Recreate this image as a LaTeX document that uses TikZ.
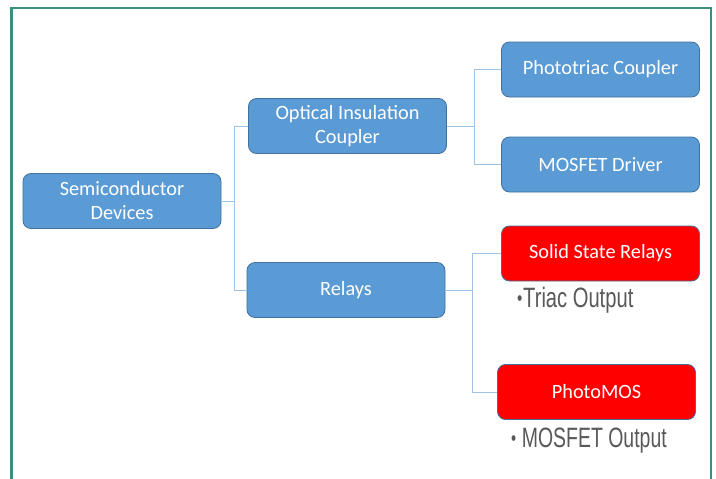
\documentclass[tikz,border=0pt]{standalone}
\usepackage{fontspec}
\newfontfamily\carlito{Carlito}
\newfontfamily\labfont{Liberation Sans}
\definecolor{boxblue}{HTML}{5B9BD5}
\definecolor{boxedge}{HTML}{41719C}
\definecolor{boxred}{HTML}{FF0000}
\definecolor{connblue}{HTML}{9DC3E6}
\definecolor{framegreen}{HTML}{3C8E7E}
\definecolor{labgray}{HTML}{595959}
\newcommand{\smallbul}{\raisebox{1.5pt}{\scalebox{0.75}{\textbullet}}}
\tikzset{
  box/.style={draw=boxedge, line width=0.8pt, fill=boxblue, rounded corners=8pt,
    minimum width=198pt, minimum height=55pt, inner sep=0pt, text=white,
    align=center, font=\carlito\fontsize{20.3}{24}\selectfont},
  redbox/.style={box, fill=boxred},
  conn/.style={draw=connblue, line width=1pt},
  lab/.style={anchor=base west, inner sep=0pt, text=labgray,
    font=\labfont\fontsize{28}{30}\selectfont}
}
\begin{document}
\begin{tikzpicture}[x=1pt,y=-1pt]
\useasboundingbox (0,0) rectangle (716,479);
\fill[white] (0,0) rectangle (716,479);
% frame
\draw[framegreen, line width=2.6pt] (11.5,482) -- (11.5,8) -- (710.8,8) -- (710.8,482);
% nodes
\node[box] (sd) at (122,201) {Semiconductor\\Devices};
\node[box] (oic) at (347.5,126) {Optical Insulation\\Coupler};
\node[box] (rel) at (346,290) {Relays};
\node[box] (ptc) at (600.5,69.5) {Phototriac Coupler};
\node[box] (mfd) at (600.5,164.5) {MOSFET Driver};
\node[redbox] (ssr) at (600.5,253.5) {Solid State Relays};
\node[redbox] (pmos) at (596.5,392) {PhotoMOS};
% junctions
\coordinate (j1) at (234,201);
\coordinate (j2) at (474,126);
\coordinate (j3) at (472.5,290);
% connectors
\draw[conn] (sd.east) -- (j1);
\draw[conn] (j1) |- (oic.west);
\draw[conn] (j1) |- (rel.west);
\draw[conn] (oic.east) -- (j2);
\draw[conn] (j2) |- (ptc.west);
\draw[conn] (j2) |- (mfd.west);
\draw[conn] (rel.east) -- (j3);
\draw[conn] (j3) |- (ssr.west);
\draw[conn] (j3) |- (pmos.west);
% labels
\node[lab] (l1) at (517,307) {\scalebox{0.72}[1]{\smallbul\kern1pt Triac Output}};
\node[lab] (l2) at (511,447) {\scalebox{0.695}[1]{\smallbul\kern8pt MOSFET Output}};
\end{tikzpicture}
\end{document}
